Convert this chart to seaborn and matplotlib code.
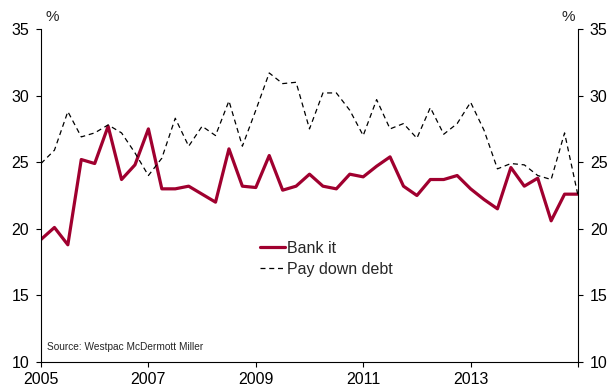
import numpy as np
import pandas as pd
import seaborn as sns
import matplotlib.pyplot as plt

# quarterly survey, 2005 Q1 .. 2015 Q1 (% of respondents)
bank_it = [19.2, 20.1, 18.8, 25.2, 24.9, 27.7, 23.7, 24.8, 27.5, 23.0,
           23.0, 23.2, 22.6, 22.0, 26.0, 23.2, 23.1, 25.5, 22.9, 23.2,
           24.1, 23.2, 23.0, 24.1, 23.9, 24.7, 25.4, 23.2, 22.5, 23.7,
           23.7, 24.0, 23.0, 22.2, 21.5, 24.6, 23.2, 23.8, 20.6, 22.6,
           22.6]
pay_down_debt = [24.9, 25.9, 28.8, 26.9, 27.2, 27.8, 27.2, 25.7, 24.0, 25.3,
                 28.3, 26.2, 27.7, 27.0, 29.6, 26.2, 28.9, 31.7, 30.9, 31.0,
                 27.5, 30.2, 30.2, 28.9, 27.0, 29.7, 27.5, 27.9, 26.8, 29.1,
                 27.1, 27.9, 29.5, 27.4, 24.5, 24.9, 24.8, 24.0, 23.7, 27.2,
                 22.5]
start_year = 2005
x_ticks = [2005, 2007, 2009, 2011, 2013, 2015]
x_labels = ['2005', '2007', '2009', '2011', '2013', '']
y_ticks = [10, 15, 20, 25, 30, 35]
source_text = 'Source: Westpac McDermott Miller'

df = pd.DataFrame({'year': start_year + np.arange(len(bank_it)) * 0.25,
                   'Bank it': bank_it,
                   'Pay down debt': pay_down_debt})

sns.set_style('ticks')
plt.rcParams['font.family'] = ['Liberation Sans', 'DejaVu Sans']

fig = plt.figure(figsize=(6.12, 3.92), dpi=100)
ax = fig.add_axes([41/612, 1-362/392, 537/612, 333/392])

sns.lineplot(data=df, x='year', y='Bank it', ax=ax, color='#A0002F',
             linewidth=2.3, label='Bank it')
sns.lineplot(data=df, x='year', y='Pay down debt', ax=ax, color='black',
             linewidth=0.9, linestyle=(0, (4, 3)), label='Pay down debt')

ax.set_xlim(2005, 2015)
ax.set_ylim(10, 35)
ax.set_xticks(x_ticks)
ax.set_xticklabels(x_labels)
ax.set_yticks(y_ticks)
ax.set_xlabel('')
ax.set_ylabel('')
ax.tick_params(axis='both', labelsize=11.5, length=3.5, width=0.8, colors='black',
               direction='out', pad=4)
ax.tick_params(axis='y', right=True, labelright=True, pad=5)
for side in ['left', 'right', 'bottom']:
    ax.spines[side].set_color('black')
    ax.spines[side].set_linewidth(0.8)
ax.spines['top'].set_visible(False)

ax.text(0.009, 1.015, '%', transform=ax.transAxes, fontsize=11, ha='left', va='bottom')
ax.text(0.994, 1.015, '%', transform=ax.transAxes, fontsize=11, ha='right', va='bottom')
ax.text(0.012, 0.045, source_text, transform=ax.transAxes, fontsize=7.3, ha='left', va='center')

ax.legend(loc='center left', bbox_to_anchor=(0.395, 0.31), frameon=False,
          fontsize=11.5, handlelength=1.6, handletextpad=0.1, labelspacing=0.35,
          borderaxespad=0)

plt.savefig('out.png', dpi=100)
plt.close()
